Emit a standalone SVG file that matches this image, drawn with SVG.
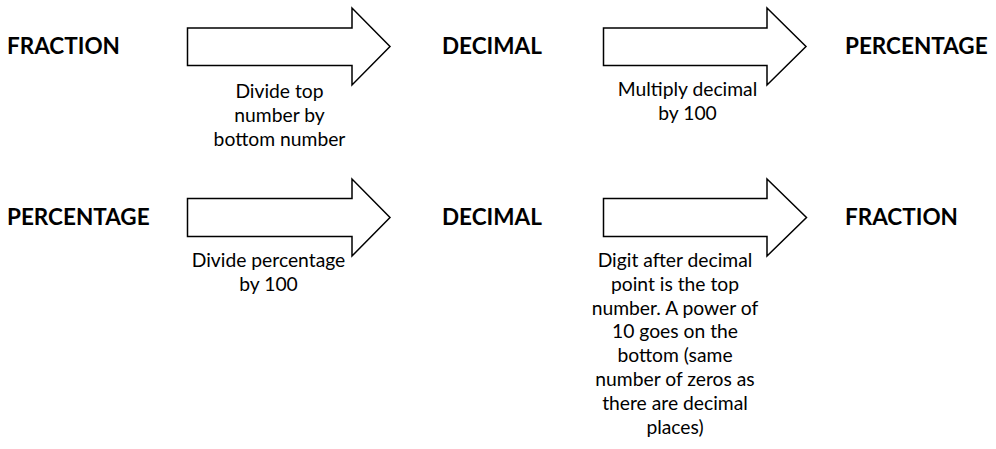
<svg xmlns="http://www.w3.org/2000/svg" width="996" height="449" viewBox="0 0 996 449">
<style>
.bg{fill:#ffffff}
.arrow{fill:#ffffff;stroke:#000000;stroke-width:1.5;stroke-linejoin:miter}
.lbl{font-family:Lato,"Liberation Sans",sans-serif;font-weight:bold;font-size:22.5px;fill:#000000}
.txt{font-family:Lato,"Liberation Sans",sans-serif;font-size:19.3px;fill:#000000;text-anchor:middle}
</style>
<rect class="bg" x="0" y="0" width="996" height="449"/>
<g id="node-fraction-top"><text class="lbl" x="7" y="54">FRACTION</text></g>
<g id="node-decimal-top"><text class="lbl" x="442" y="54">DECIMAL</text></g>
<g id="node-percentage-top"><text class="lbl" x="845" y="54">PERCENTAGE</text></g>
<g id="node-percentage-bottom"><text class="lbl" x="7" y="225">PERCENTAGE</text></g>
<g id="node-decimal-bottom"><text class="lbl" x="442" y="225">DECIMAL</text></g>
<g id="node-fraction-bottom"><text class="lbl" x="845" y="225">FRACTION</text></g>
<g id="connectors">
<g id="arrow-fraction-decimal">
<path class="arrow" d="M187.5,28 H352 V8 L390,46.5 L352,85 V65.5 H187.5 Z"/>
<text class="txt" x="279.5" y="97.5">Divide top</text>
<text class="txt" x="279.5" y="121.5">number by</text>
<text class="txt" x="279.5" y="145.5">bottom number</text>
</g>
<g id="arrow-decimal-percentage">
<path class="arrow" d="M603.5,28 H767 V8 L806,46.5 L767,85 V65.5 H603.5 Z"/>
<text class="txt" x="687.5" y="96">Multiply decimal</text>
<text class="txt" x="687.5" y="120">by 100</text>
</g>
<g id="arrow-percentage-decimal">
<path class="arrow" d="M187.5,198.5 H352 V179 L390,217.5 L352,256 V236.5 H187.5 Z"/>
<text class="txt" x="268.5" y="266.7">Divide percentage</text>
<text class="txt" x="268.5" y="290.5">by 100</text>
</g>
<g id="arrow-decimal-fraction">
<path class="arrow" d="M603.5,198.5 H767 V179 L806.5,217.5 L767,256 V236.5 H603.5 Z"/>
<text class="txt" x="675" y="266.7">Digit after decimal</text>
<text class="txt" x="675" y="290.6">point is the top</text>
<text class="txt" x="675" y="314.5">number. A power of</text>
<text class="txt" x="675" y="338.4">10 goes on the</text>
<text class="txt" x="675" y="362.3">bottom (same</text>
<text class="txt" x="675" y="386.2">number of zeros as</text>
<text class="txt" x="675" y="410.1">there are decimal</text>
<text class="txt" x="675" y="434">places)</text>
</g>
</g>
</svg>
